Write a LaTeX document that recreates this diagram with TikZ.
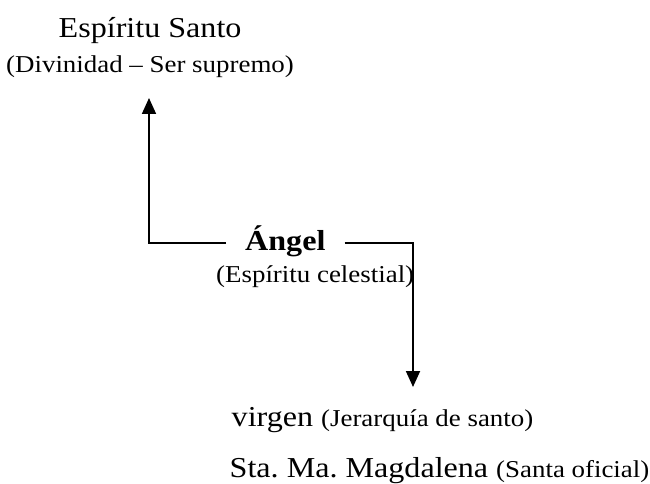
\documentclass[tikz,border=0pt]{standalone}
\usepackage{fontspec}
\usepackage{graphicx}
\setmainfont{Liberation Serif}
\usetikzlibrary{arrows.meta}
\frenchspacing
\newcommand\sq[1]{\scalebox{1}[0.9]{#1}}
\newcommand\bigtxt{\fontsize{32.1}{36}\selectfont}
\newcommand\smalltxt{\fontsize{26.9}{30}\selectfont}
\tikzset{
  txt/.style={inner sep=0pt, anchor=base west},
  arr/.style={line width=1.8pt, -{Triangle[width=14pt,length=16pt]}},
}
\begin{document}
\begin{tikzpicture}[x=1pt,y=-1pt]
\useasboundingbox (0,0) rectangle (650,484);
\node[txt] (santo) at (58.5,37.5) {\sq{\bigtxt Espíritu Santo}};
\node[txt] (div) at (6,73) {\sq{\smalltxt (Divinidad – Ser supremo)}};
\node[txt, inner xsep=19pt] (angel) at (226,250) {\sq{\bigtxt\bfseries Ángel}};
\node[txt] (cel) at (216,282) {\sq{\smalltxt (Espíritu celestial)}};
\node[txt] (virgen) at (231.5,426) {\sq{\bigtxt virgen \smalltxt(Jerarquía de santo)}};
\node[txt] (sta) at (229.5,477) {\sq{\bigtxt Sta. Ma. Magdalena \smalltxt(Santa oficial)}};
\coordinate (lvl) at (0,243);
\coordinate (upend) at (149,98);
\coordinate (downend) at (413,387);
\draw[arr] (angel.west |- lvl) -| (upend);
\draw[arr] (angel.east |- lvl) -| (downend);
\end{tikzpicture}
\end{document}
